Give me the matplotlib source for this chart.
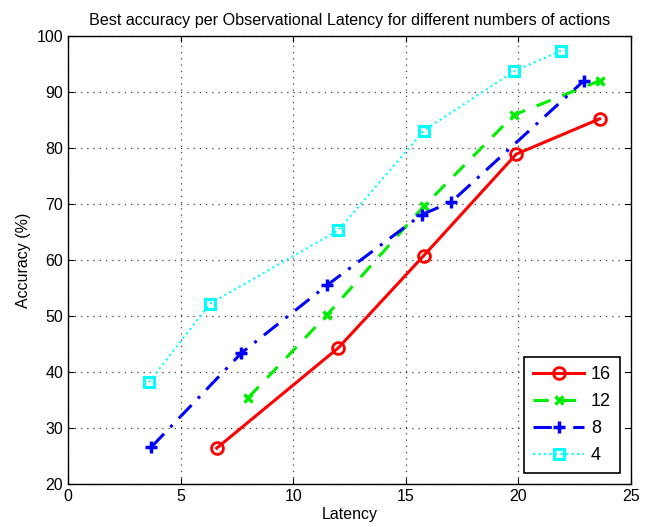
import numpy as np
import matplotlib.pyplot as plt

plt.rcParams['font.family'] = ['Liberation Sans', 'DejaVu Sans']

# data
lat_16 = [6.6, 12.0, 15.8, 19.9, 23.6]
acc_16 = [26.4, 44.3, 60.8, 78.9, 85.2]

lat_12 = [8.0, 11.5, 15.8, 19.8, 23.6]
acc_12 = [35.4, 50.2, 69.6, 85.9, 92.0]

lat_8 = [3.7, 7.7, 11.5, 15.7, 17.0, 22.9]
acc_8 = [26.6, 43.4, 55.5, 68.1, 70.3, 92.0]

lat_4 = [3.6, 6.3, 12.0, 15.8, 19.8, 21.9]
acc_4 = [38.2, 52.2, 65.3, 83.1, 93.7, 97.4]

fig = plt.figure(figsize=(6.56, 5.27), dpi=100)
ax = fig.add_axes([0.1037, 0.0816, 0.8583, 0.8501])

ax.plot(lat_16, acc_16, '-o', color='red', lw=2.2, ms=8.5, mew=2,
        mfc='none', label='16')
ax.plot(lat_12, acc_12, '--x', color='#00ee00', lw=2.2, ms=6, mew=2.5,
        label='12', dashes=(5, 4))
ax.plot(lat_8, acc_8, '-.+', color='blue', lw=2.2, ms=8, mew=2.5,
        label='8', dashes=(6, 3, 1, 3))
ax.plot(lat_4, acc_4, ':s', color='cyan', lw=1.5, ms=7, mew=2.2,
        mfc='none', label='4')

ax.set_xlim(0, 25)
ax.set_ylim(20, 100)
ax.set_xticks(np.arange(0, 26, 5))
ax.set_yticks(np.arange(20, 101, 10))
ax.grid(True, linestyle=(0, (1, 4)), color='0.25', lw=0.9)
ax.tick_params(direction='in', top=True, right=True, labelsize=11.5, length=4)
for s in ax.spines.values():
    s.set_linewidth(1.0)

ax.set_xlabel('Latency', fontsize=11.5, labelpad=2)
ax.set_ylabel('Accuracy (%)', fontsize=11.5)
ax.set_title('Best accuracy per Observational Latency for different numbers of actions',
             fontsize=11.6, pad=8)

leg = ax.legend(loc='lower right', fontsize=13, handlelength=2.8,
                fancybox=False, framealpha=1, edgecolor='black',
                borderaxespad=0.6, labelspacing=0.55, borderpad=0.5,
                handletextpad=0.4)
leg.get_frame().set_linewidth(1.2)

fig.savefig('out.png', dpi=100)
